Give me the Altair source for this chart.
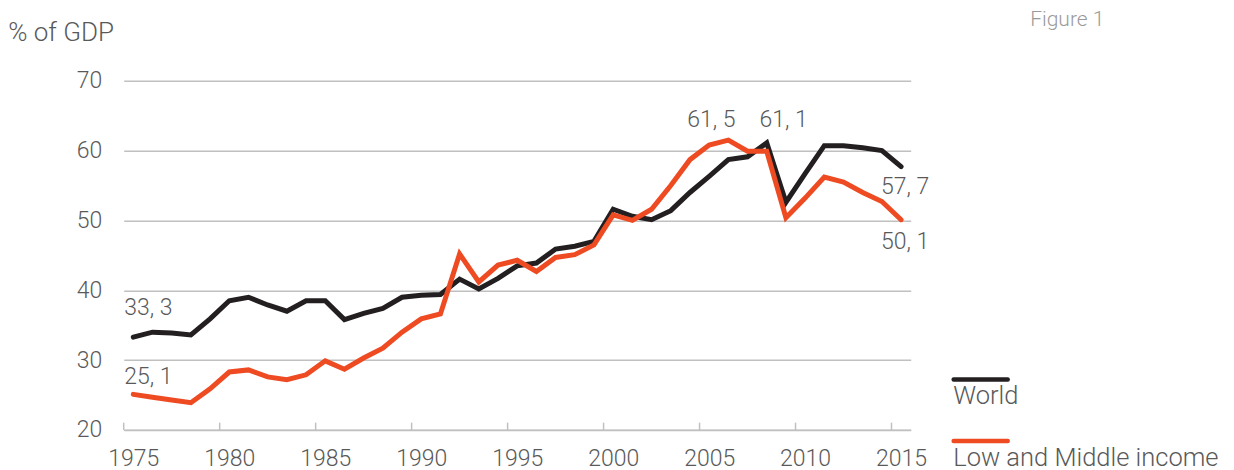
import altair as alt
import pandas as pd

years = list(range(1975, 2016))
world = [33.3, 34.0, 33.9, 33.6, 35.9, 38.5, 39.0, 37.9, 37.0, 38.5,
         38.5, 35.8, 36.7, 37.4, 39.0, 39.3, 39.4, 41.6, 40.2, 41.7,
         43.5, 43.9, 45.9, 46.3, 47.0, 51.6, 50.6, 50.1, 51.4, 54.0,
         56.3, 58.7, 59.1, 61.1, 52.6, 56.7, 60.7, 60.7, 60.4, 60.0, 57.7]
lmi = [25.1, 24.7, 24.3, 23.9, 25.9, 28.3, 28.6, 27.6, 27.2, 27.9,
       29.9, 28.7, 30.3, 31.7, 34.0, 35.9, 36.6, 45.2, 41.2, 43.6,
       44.3, 42.7, 44.7, 45.1, 46.5, 50.8, 50.0, 51.6, 55.0, 58.7,
       60.8, 61.5, 59.9, 59.9, 50.4, 53.2, 56.2, 55.5, 54.0, 52.7, 50.1]
series_names = ["World", "Low and Middle income"]
series_colors = ["#231f20", "#ee4b23"]
tick_label_years = [1975, 1980, 1985, 1990, 1995, 2000, 2005, 2010, 2015]
boundary_years = [1974.5, 1979.5, 1984.5, 1989.5, 1994.5, 1999.5, 2004.5, 2009.5, 2014.5]
y_ticks = [20, 30, 40, 50, 60, 70]

# annotations: (series, year, value, text, align, dx, dy)
annotations = [
    ("World", 1975, 33.3, "33, 3", "left", -9, -22),
    ("Low and Middle income", 1975, 25.1, "25, 1", "left", -9, -10),
    ("Low and Middle income", 2006, 61.5, "61, 5", "center", -17, -13),
    ("World", 2008, 61.1, "61, 1", "center", 17, -16),
    ("World", 2015, 57.7, "57, 7", "center", 4, 27),
    ("Low and Middle income", 2015, 50.1, "50, 1", "center", 4, 29),
]

FONT = "Roboto"
TXT = "#595959"

df = pd.DataFrame({
    "year": years * 2,
    "value": world + lmi,
    "series": [series_names[0]] * len(years) + [series_names[1]] * len(years),
})

xscale = alt.Scale(domain=[1974.5, 2015.5], nice=False, zero=False)
yscale = alt.Scale(domain=[20, 70], nice=False, zero=False)

base = alt.Chart(df)

lines = base.mark_line(strokeWidth=5, strokeJoin="miter", strokeCap="round").encode(
    x=alt.X("year:Q", scale=xscale,
            axis=alt.Axis(values=tick_label_years, format="d", ticks=False, grid=False,
                          domain=True, domainColor="#c0c0c0", domainWidth=1.5,
                          labelFont=FONT, labelFontSize=23, labelFontWeight=300,
                          labelColor=TXT, labelPadding=36, labelBaseline="alphabetic",
                          labelFlush=False, title=None)),
    y=alt.Y("value:Q", scale=yscale,
            axis=alt.Axis(values=y_ticks, ticks=False, domain=False, grid=True,
                          gridColor="#c0c0c0", gridWidth=1.5,
                          labelFont=FONT, labelFontSize=23, labelFontWeight=300,
                          labelColor=TXT, labelPadding=22,
                          title="% of GDP", titleAngle=0, titleAlign="left",
                          titleBaseline="alphabetic", titleX=-116, titleY=-40,
                          titleFont=FONT, titleFontSize=26, titleFontWeight=300,
                          titleColor=TXT)),
    color=alt.Color("series:N", scale=alt.Scale(domain=series_names, range=series_colors),
                    legend=None),
    detail="series:N",
)

tick_df = pd.DataFrame({"b": boundary_years, "y0": [20] * len(boundary_years),
                        "y1": [21.05] * len(boundary_years)})
ticks = alt.Chart(tick_df).mark_rule(color="#c0c0c0", strokeWidth=1.5).encode(
    x=alt.X("b:Q", scale=xscale), y=alt.Y("y0:Q", scale=yscale), y2="y1:Q")

layers = [ticks, lines]

for s, yr, v, t, al, dx, dy in annotations:
    adf = pd.DataFrame({"year": [yr], "value": [v], "text": [t]})
    layers.append(alt.Chart(adf).mark_text(
        font=FONT, fontSize=23, fontWeight=300, color=TXT, align=al,
        baseline="alphabetic", dx=dx, dy=dy).encode(
        x=alt.X("year:Q", scale=xscale), y=alt.Y("value:Q", scale=yscale), text="text:N"))

# custom legend
for i, (name, col) in enumerate(zip(series_names, series_colors)):
    ly = 298.7 + i * 61.7
    layers.append(alt.Chart(pd.DataFrame({"n": [name]})).mark_rule(
        color=col, strokeWidth=4.5, strokeCap="round").encode(
        x=alt.value(830), x2=alt.value(884), y=alt.value(ly)))
    layers.append(alt.Chart(pd.DataFrame({"n": [name]})).mark_text(
        font=FONT, fontSize=25.5, fontWeight=300, color=TXT, align="left",
        baseline="alphabetic").encode(
        x=alt.value(829.5), y=alt.value(ly + 25), text="n:N"))

layers.append(alt.Chart(pd.DataFrame({"n": ["Figure 1"]})).mark_text(
    font=FONT, fontSize=21, fontWeight=300, color="#9a9a9a", align="left",
    baseline="alphabetic").encode(x=alt.value(906.5), y=alt.value(-54.5), text="n:N"))

chart = alt.layer(*layers).properties(
    width=787, height=349.3,
    autosize=alt.AutoSizeParams(type="none"),
    padding={"left": 115.7, "top": 72.7, "right": 315, "bottom": 50},
).configure_view(stroke=None)

chart.save("out.html", embed_options={"renderer": "svg", "actions": False})
